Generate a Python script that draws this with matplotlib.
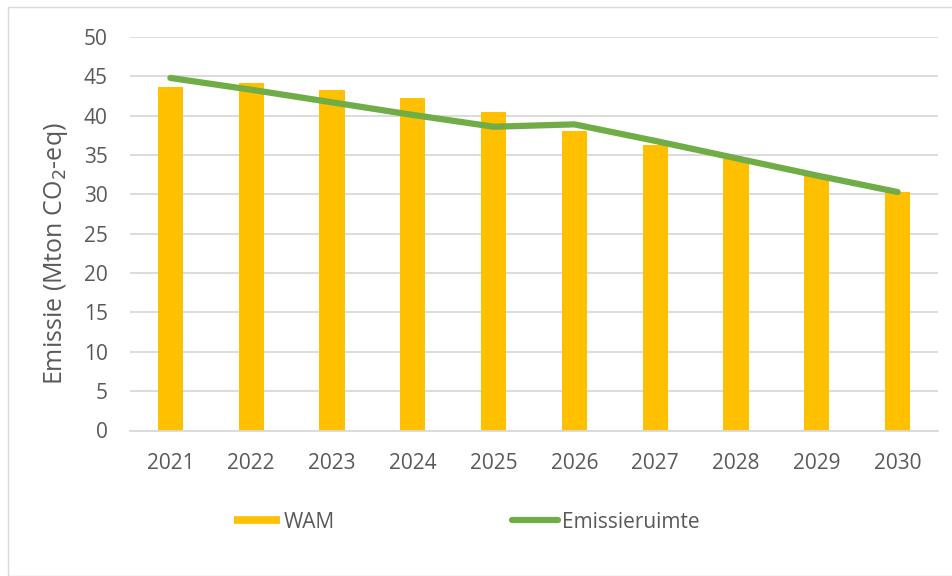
import matplotlib
matplotlib.use("Agg")
from matplotlib import pyplot as plt
from matplotlib.patches import Rectangle
from matplotlib.lines import Line2D

# chart data
years = ['2021', '2022', '2023', '2024', '2025', '2026', '2027', '2028', '2029', '2030']
wam = [43.7, 44.2, 43.3, 42.2, 40.5, 38.1, 36.3, 34.5, 32.4, 30.3]
emissieruimte = [44.8, 43.3, 41.7, 40.1, 38.6, 38.9, 36.8, 34.6, 32.4, 30.3]

text_color = '#595959'
bar_color = '#FFC000'
line_color = '#70AD47'
plt.rcParams['font.family'] = ['Open Sans', 'DejaVu Sans']

fig = plt.figure(figsize=(9.53, 5.76), dpi=100)
ax = fig.add_axes([130 / 953, 1 - 430.5 / 576, 808 / 953, 393.5 / 576])

# outer chart frame
fig.patches.append(Rectangle((8 / 953, 0), 1, 1 - 7 / 576, transform=fig.transFigure,
                             fill=False, edgecolor='#d9d9d9', linewidth=1))

x = range(len(years))
ax.bar(x, wam, width=0.31, color=bar_color, zorder=2)
ax.plot(x, emissieruimte, color=line_color, linewidth=4.5, solid_capstyle='round', zorder=3)

ax.set_xlim(-0.5, len(years) - 0.5)
ax.set_ylim(0, 50)
ax.set_yticks(range(0, 51, 5))
ax.set_xticks(list(x))
ax.set_xticklabels(years)
ax.yaxis.grid(True, color='#d9d9d9', linewidth=1.3, zorder=0)
ax.set_axisbelow(True)

for side in ['top', 'right', 'left']:
    ax.spines[side].set_visible(False)
ax.spines['bottom'].set_color('#d9d9d9')
ax.spines['bottom'].set_linewidth(1.3)
ax.tick_params(axis='both', length=0, labelsize=15, colors=text_color)
ax.tick_params(axis='x', pad=16)
ax.tick_params(axis='y', pad=16)

ax.set_ylabel('Emissie (Mton CO$_2$-eq)', fontsize=18, color=text_color)
ax.yaxis.set_label_coords(-0.074, 0.449)

# legend: thin bar swatch and thick line, as in the original
handles = [Line2D([], [], color=bar_color, linewidth=5.5, solid_capstyle='butt'),
           Line2D([], [], color=line_color, linewidth=4.5, solid_capstyle='round')]
fig.legend(handles, ['WAM', 'Emissieruimte'], loc='center',
           bbox_to_anchor=(467 / 953, 1 - 522 / 576), ncol=2,
           frameon=False, fontsize=15, labelcolor=text_color, columnspacing=8.5,
           handlelength=2.2, handletextpad=0.2)

plt.savefig('out.png', dpi=100)
